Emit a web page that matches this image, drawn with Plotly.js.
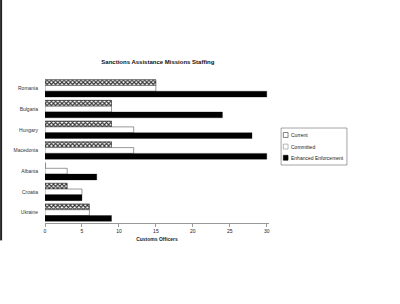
<!DOCTYPE html>
<html>
<head>
<meta charset="utf-8">
<script src="https://cdn.plot.ly/plotly-3.0.1.min.js"></script>
<style>html,body{margin:0;padding:0;background:#fff;}#chart{width:400px;height:304px;}</style>
</head>
<body>
<div id="chart"></div>
<script>
var countries = ["Romania", "Bulgaria", "Hungary", "Macedonia", "Albania", "Croatia", "Ukraine"];
var current = [15, 9, 9, 9, 0, 3, 6];
var committed = [15, 9, 12, 12, 3, 5, 6];
var enhanced = [30, 24, 28, 30, 7, 5, 9];
var xTicks = [0, 5, 10, 15, 20, 25, 30];
var seriesNames = ["Current", "Committed", "Enhanced Enforcement"];

var font = "Liberation Sans, Arial, sans-serif";

var styles = [
  {color: "#ffffff", line: {color: "#222", width: 0.6},
   pattern: {shape: "x", fgcolor: "#333", bgcolor: "#ffffff", size: 3, solidity: 0.6}},
  {color: "#ffffff", line: {color: "#555", width: 0.6}},
  {color: "#000000", line: {color: "#000", width: 0.3}}
];
var values = [current, committed, enhanced];

var traces = seriesNames.map(function (n, i) {
  return {type: "bar", orientation: "h", name: n, y: countries, x: values[i], marker: styles[i], showlegend: false};
});

// custom compact legend built in paper coordinates
var legX0 = 1.054, legX1 = 1.348, legY0 = 0.40, legY1 = 0.655;
var rowY = [0.607, 0.527, 0.45];
var shapes = [
  {type: "rect", xref: "paper", yref: "paper", x0: legX0, x1: legX1, y0: legY0, y1: legY1,
   line: {color: "#666", width: 0.6}, fillcolor: "#ffffff"},
  {type: "line", xref: "paper", yref: "paper", x0: -0.196, x1: -0.196, y0: -0.12, y1: 1.6,
   line: {color: "#222", width: 2}}
];
var swFill = ["#ffffff", "#ffffff", "#000000"];
var swLine = ["#333", "#888", "#000"];
var annotations = [];
seriesNames.forEach(function (n, i) {
  shapes.push({type: "rect", xref: "paper", yref: "paper", x0: legX0 + 0.01, x1: legX0 + 0.031,
               y0: rowY[i] - 0.017, y1: rowY[i] + 0.017, line: {color: swLine[i], width: 0.6}, fillcolor: swFill[i]});
  annotations.push({xref: "paper", yref: "paper", x: legX0 + 0.036, y: rowY[i], xanchor: "left", yanchor: "middle",
                    text: n, showarrow: false, font: {family: font, size: 5, color: "#222"}});
});

var layout = {
  width: 400, height: 304,
  paper_bgcolor: "#ffffff", plot_bgcolor: "#ffffff",
  margin: {l: 45, r: 131, t: 78, b: 81, pad: 0},
  barmode: "group", bargap: 0.16, bargroupgap: 0,
  font: {family: font, size: 5, color: "#222"},
  title: {text: "<b>Sanctions Assistance Missions Staffing</b>", font: {family: font, size: 6, color: "#111"},
          x: 0.504, xref: "paper", xanchor: "center", y: 0.796, yref: "container", yanchor: "middle"},
  xaxis: {range: [0, 30.3], tickvals: xTicks, ticktext: xTicks.map(String), ticks: "outside", ticklen: 3,
          tickcolor: "#555", tickwidth: 0.6, showline: true, linecolor: "#555", linewidth: 0.6,
          showgrid: false, zeroline: false, tickfont: {size: 5, color: "#222"},
          title: {text: "<b>Customs Officers</b>", font: {size: 5, color: "#222"}, standoff: 4}},
  yaxis: {autorange: "reversed", showgrid: false, showline: false, zeroline: false, ticks: "",
          tickfont: {size: 5, color: "#333"}, ticklabelstandoff: 6},
  shapes: shapes,
  annotations: annotations,
  showlegend: false
};

Plotly.newPlot("chart", traces, layout, {staticPlot: true, displayModeBar: false});
</script>
</body>
</html>
